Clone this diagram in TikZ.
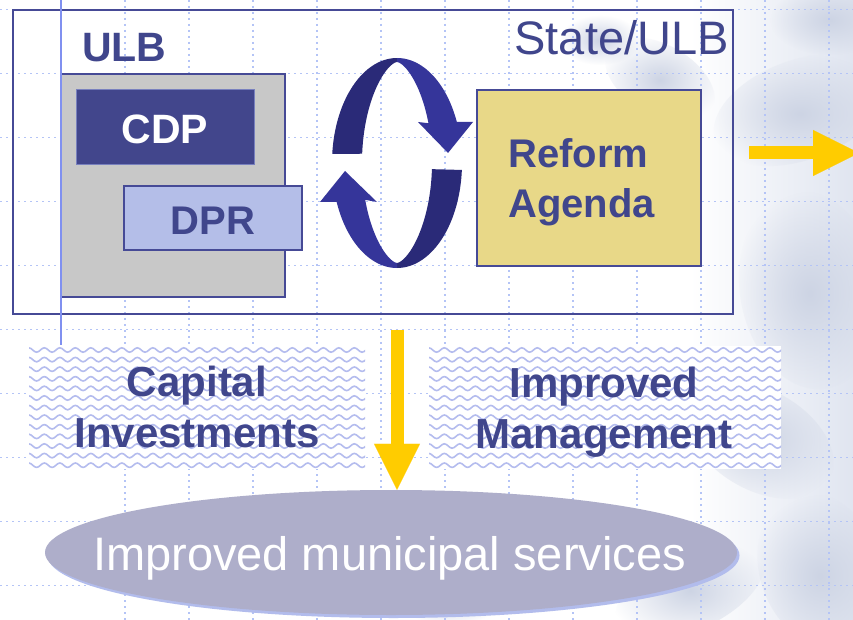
\documentclass[tikz,border=0pt]{standalone}
\usepackage{fontspec}
\setmainfont{Liberation Sans}
\usetikzlibrary{shapes.geometric,decorations.pathmorphing,arrows.meta,calc,fadings}

\definecolor{navy}{RGB}{64,70,140}
\definecolor{framecol}{RGB}{70,74,150}
\definecolor{gridblue}{RGB}{180,196,246}
\definecolor{rulerblue}{RGB}{128,144,240}
\definecolor{khaki}{RGB}{232,216,136}
\definecolor{lilac}{RGB}{180,190,232}
\definecolor{panelgray}{RGB}{200,200,200}
\definecolor{cdpblue}{RGB}{66,70,140}
\definecolor{cdpedge}{RGB}{120,128,190}
\definecolor{amber}{RGB}{255,204,0}
\definecolor{ovalfill}{RGB}{174,174,202}
\definecolor{ovalshadow}{RGB}{178,188,236}
\definecolor{wavecol}{RGB}{180,188,238}
\definecolor{cycdark}{RGB}{42,42,120}
\definecolor{cyclight}{RGB}{53,53,154}
\definecolor{bgwash}{RGB}{224,229,240}
\definecolor{blob}{RGB}{205,212,228}

\tikzfading[name=softedge, inner color=transparent!0, outer color=transparent!100]

\tikzset{
  gridline/.style={gridblue, line width=1.5pt, dash pattern=on 2pt off 4pt},
  framebox/.style={rectangle, draw=framecol, line width=1.6pt, inner sep=0pt},
  boldtext/.style={text=navy, font=\bfseries\fontsize{42}{51}\selectfont, align=center, inner sep=0pt},
  wavebox/.style={rectangle, fill=white, inner sep=0pt,
    path picture={
      \foreach \k in {0,...,13}{
        \draw[wavecol, line width=1.6pt, decorate,
              decoration={snake, segment length=15.5pt, amplitude=2.2pt}]
          ([yshift=-\k*9.6pt-4pt, xshift=-5pt]path picture bounding box.north west) --
          ([yshift=-\k*9.6pt-4pt, xshift=10pt]path picture bounding box.north east);
      }}},
  yarrow/.style={amber, line width=13pt,
    -{Triangle[width=46pt 0 0, length=46pt 0 0, line width=0.1pt]}},
  softblob/.style={blob, path fading=softedge},
}

\begin{document}
\begin{tikzpicture}[x=1pt,y=-1pt]
\useasboundingbox (0,0) rectangle (853,620);
\clip (0,0) rectangle (853,620);
\fill[white] (0,0) rectangle (853,620);

% faint water-drop photograph behind the grid
\shade[left color=white, right color=bgwash] (690,0) rectangle (853,620);
\foreach \cx/\cy/\rx/\ry/\ang in {
  800/110/90/50/20, 660/80/60/35/-30, 810/290/70/100/10,
  760/440/80/50/-30, 820/570/60/80/20, 690/590/80/40/25, 600/40/40/25/0,
  830/20/60/35/0, 450/600/50/25/0}
  \fill[softblob, rotate around={\ang:(\cx,\cy)}]
    (\cx,\cy) ellipse [x radius=\rx, y radius=\ry];

% dotted grid
\foreach \gx in {125,189,...,829}
  \draw[gridline] (\gx,0) -- (\gx,620);
\foreach \gy in {9.5,73.5,...,585.5}
  \draw[gridline] (0,\gy) -- (853,\gy);

% State/ULB frame and its contents
\node[framebox, minimum width=720pt, minimum height=304pt] (frame) at (373,162) {};
\node[anchor=base east, inner sep=0pt, text=navy, font=\fontsize{47}{47}\selectfont]
  (statelbl) at (729,54.5) {State/ULB};
\node[anchor=base west, inner sep=0pt, text=navy, font=\bfseries\fontsize{41}{41}\selectfont]
  (ulblbl) at (82,62) {ULB};

\node[framebox, fill=panelgray, minimum width=224pt, minimum height=223pt] (ulb) at (173,185.5) {};
\node[rectangle, fill=cdpblue, draw=cdpedge, line width=1pt, inner sep=0pt,
      minimum width=178pt, minimum height=75pt, text=white,
      font=\bfseries\fontsize{41}{41}\selectfont, text height=33pt, text depth=0pt]
  (cdp) at (165,127.5) {CDP};
\node[framebox, fill=lilac, minimum width=178pt, minimum height=64pt, text=navy,
      font=\bfseries\fontsize{40}{40}\selectfont, text height=32pt, text depth=0pt]
  (dpr) at (213,218) {DPR};

\node[framebox, fill=khaki, minimum width=224pt, minimum height=176pt] (reform) at (589,178) {};
\node[boldtext, align=left, anchor=west, font=\bfseries\fontsize{40}{50}\selectfont]
  (reformtxt) at (508,182.6) {Reform\\Agenda};

% cycle of two curved arrows, each in a dark and a light half
\fill[cycdark]
  plot[domain=175:88, samples=40] ({397+65*cos(\x)},{163-105*sin(\x)})
  -- plot[domain=88:175, samples=40] ({397+35*cos(\x)*pow(abs(cos(\x))+0.001,0.3)},{162.5-100.5*sin(\x)})
  -- cycle;
\fill[cyclight]
  plot[domain=90:23, samples=40] ({397+65*cos(\x)},{163-105*sin(\x)})
  -- (473,122) -- (448,153) -- (418,122)
  -- plot[domain=23:90, samples=40] ({397+35*cos(\x)*pow(abs(cos(\x))+0.001,0.3)},{162.5-100.5*sin(\x)})
  -- cycle;
\fill[cycdark]
  plot[domain=-3.8:-92, samples=40] ({397+65*cos(\x)},{163-105*sin(\x)})
  -- plot[domain=-92:-3.8, samples=40] ({397+35*cos(\x)*pow(abs(cos(\x))+0.001,0.3)},{162.5-100.5*sin(\x)})
  -- cycle;
\fill[cyclight]
  plot[domain=-90:-158.2, samples=40] ({397+65*cos(\x)},{163-105*sin(\x)})
  -- (320,202) -- (345,171) -- (377,202)
  -- plot[domain=-158.2:-90, samples=40] ({397+35*cos(\x)*pow(abs(cos(\x))+0.001,0.3)},{162.5-100.5*sin(\x)})
  -- cycle;

% left ruler line
\draw[rulerblue, line width=1.2pt] (61,0) -- (61,345);

% outputs
\node[wavebox, minimum width=336pt, minimum height=123pt] (capbox) at (197,407.5) {};
\node[boldtext] (captxt) at (197,407.4) {Capital\\Investments};
\node[wavebox, minimum width=352pt, minimum height=123pt] (mgmtbox) at (605,407.5) {};
\node[boldtext] (mgmttxt) at (604,412.2) {Improved\\Management};

% outcome oval
\fill[ovalshadow] (393.5,555.5) ellipse [x radius=346, y radius=62.5];
\node[ellipse, fill=ovalfill, inner sep=0pt, minimum width=692pt, minimum height=125pt]
  (outcome) at (391,552.5) {};
\node[anchor=base, inner sep=0pt, text=white, font=\fontsize{47}{47}\selectfont]
  (outcometxt) at (389.5,570) {Improved municipal services};

% yellow flow arrows
\coordinate (rstart) at (749,153);
\coordinate (rend) at (859,153);
\draw[yarrow] (rstart) -- (rend);
\coordinate (dstart) at (397,330);
\draw[yarrow] (dstart) -- (dstart |- outcome.north);
\end{tikzpicture}
\end{document}
